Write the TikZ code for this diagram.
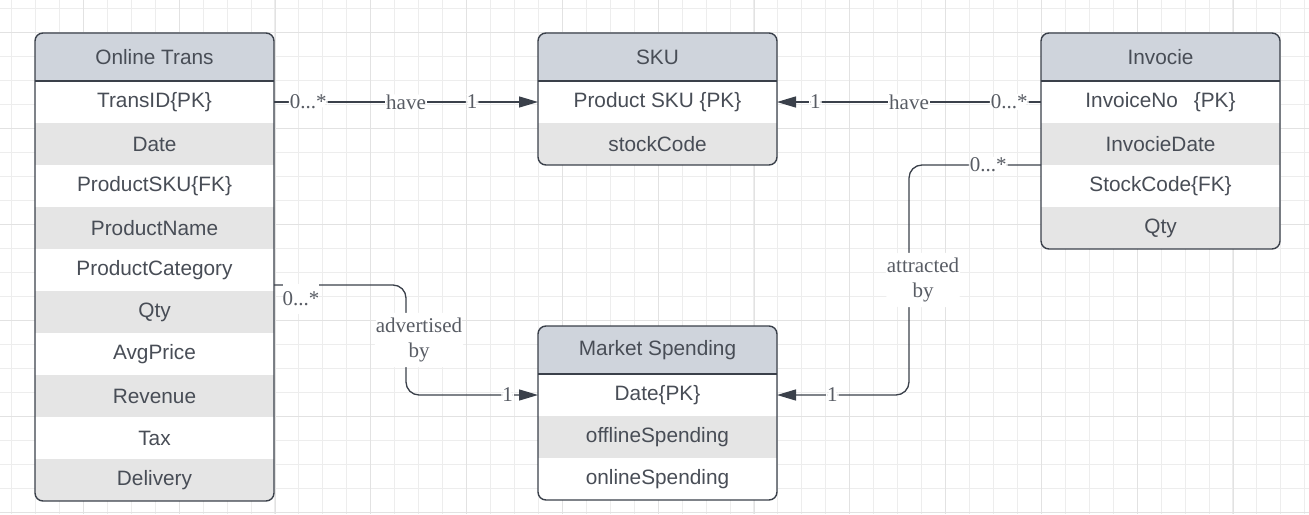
\documentclass[tikz,border=0pt]{standalone}
\usepackage{fontspec}
\usepackage{tikz}
\usetikzlibrary{arrows.meta,positioning,calc}
\newfontfamily\entfont{Liberation Sans}
\newfontfamily\relfont{Liberation Serif}
\definecolor{hdrfill}{RGB}{207,212,220}
\definecolor{altfill}{RGB}{229,229,229}
\definecolor{edgecol}{RGB}{58,64,74}
\definecolor{txtcol}{RGB}{72,77,86}
\definecolor{labcol}{RGB}{88,92,100}
\definecolor{gridmin}{RGB}{237,237,237}
\definecolor{gridmaj}{RGB}{226,226,226}

\begin{document}
\begin{tikzpicture}[
  x=1pt,y=-1pt,
  hdr/.style={minimum width=239pt,minimum height=48pt,inner sep=0pt,outer sep=0pt,
    fill=hdrfill,text=txtcol,font=\entfont\fontsize{20.8}{24}\selectfont},
  fld/.style={minimum width=239pt,minimum height=42pt,inner sep=0pt,outer sep=0pt,
    fill=white,text=txtcol,font=\entfont\fontsize{20.8}{24}\selectfont},
  fldalt/.style={fld,fill=altfill},
  frame/.style={draw=edgecol,line width=1.4pt,rounded corners=8pt},
  rel/.style={draw=edgecol,line width=1.3pt,rounded corners=13pt,
    -{Triangle[length=19pt,width=11pt]}},
  lab/.style={fill=white,inner sep=1pt,text=labcol,font=\relfont\fontsize{21}{25}\selectfont},
  lab2/.style={lab,align=center,inner ysep=5pt}
]
\useasboundingbox (0,0) rectangle (1309,514);

% ---------------- background grid ----------------
\foreach \i in {0,...,54}
  \draw[gridmin,line width=1pt] ({11.5+23.95*\i},0) -- ({11.5+23.95*\i},514);
\foreach \j in {0,...,21}
  \draw[gridmin,line width=1pt] (0,{8+24*\j}) -- (1309,{8+24*\j});
\foreach \i in {0,...,13}
  \draw[gridmaj,line width=1pt] ({83.4+95.8*\i},0) -- ({83.4+95.8*\i},514);
\foreach \j in {0,...,5}
  \draw[gridmaj,line width=1pt] (0,{32+96*\j}) -- (1309,{32+96*\j});

% ---------------- Online Trans ----------------
\begin{scope}
  \clip[rounded corners=8pt] (35,33) rectangle (274,501);
  \node[hdr] (ot) at (154.5,57) {Online Trans};
  \node[fld,below=0pt of ot] (ot1) {TransID\{PK\}};
  \node[fldalt,below=0pt of ot1] (ot2) {Date};
  \node[fld,below=0pt of ot2] (ot3) {ProductSKU\{FK\}};
  \node[fldalt,below=0pt of ot3] (ot4) {ProductName};
  \node[fld,below=0pt of ot4] (ot5) {ProductCategory};
  \node[fldalt,below=0pt of ot5] (ot6) {Qty};
  \node[fld,below=0pt of ot6] (ot7) {AvgPrice};
  \node[fldalt,below=0pt of ot7] (ot8) {Revenue};
  \node[fld,below=0pt of ot8] (ot9) {Tax};
  \node[fldalt,below=0pt of ot9] (ot10) {Delivery};
\end{scope}
\draw[frame] (35,33) rectangle (274,501);
\draw[frame] (ot.south west) -- (ot.south east);

% ---------------- SKU ----------------
\begin{scope}
  \clip[rounded corners=8pt] (538,33) rectangle (777,165);
  \node[hdr] (sku) at (657.5,57) {SKU};
  \node[fld,below=0pt of sku] (sku1) {Product SKU \{PK\}};
  \node[fldalt,below=0pt of sku1] (sku2) {stockCode};
\end{scope}
\draw[frame] (538,33) rectangle (777,165);
\draw[frame] (sku.south west) -- (sku.south east);

% ---------------- Invocie ----------------
\begin{scope}
  \clip[rounded corners=8pt] (1041,33) rectangle (1280,249);
  \node[hdr] (inv) at (1160.5,57) {Invocie};
  \node[fld,below=0pt of inv] (inv1) {InvoiceNo\hspace{16pt}\{PK\}};
  \node[fldalt,below=0pt of inv1] (inv2) {InvocieDate};
  \node[fld,below=0pt of inv2] (inv3) {StockCode\{FK\}};
  \node[fldalt,below=0pt of inv3] (inv4) {Qty};
\end{scope}
\draw[frame] (1041,33) rectangle (1280,249);
\draw[frame] (inv.south west) -- (inv.south east);

% ---------------- Market Spending ----------------
\begin{scope}
  \clip[rounded corners=8pt] (538,326) rectangle (777,500);
  \node[hdr] (msp) at (657.5,350) {Market Spending};
  \node[fld,below=0pt of msp] (msp1) {Date\{PK\}};
  \node[fldalt,below=0pt of msp1] (msp2) {offlineSpending};
  \node[fld,below=0pt of msp2] (msp3) {onlineSpending};
\end{scope}
\draw[frame] (538,326) rectangle (777,500);
\draw[frame] (msp.south west) -- (msp.south east);

% ---------------- relations ----------------
\draw[rel] (ot1.east) -- node[lab,pos=0.13] (r1a) {0...*}
  node[lab,pos=0.5] (r1b) {have} node[lab,pos=0.75] (r1c) {1} (sku1.west);

\draw[rel] (inv1.west) -- node[lab,pos=0.12] (r2a) {0...*}
  node[lab,pos=0.5] (r2b) {have} node[lab,pos=0.855] (r2c) {1} (sku1.east);

\draw[rel] ([yshift=-15pt]ot5.east) -| node[lab2,pos=0.75,xshift=13pt] (r3b) {advertised\\by}
  ([xshift=-132pt]msp1.west) -- node[lab,pos=0.77] (r3c) {1} (msp1.west);
\node[lab,inner xsep=0pt,minimum height=30pt] (r3a) at ([xshift=27pt,yshift=-29pt]ot5.east) {0...*};

\draw[rel] (inv2.south west) -| node[lab,pos=0.2] (r4a) {0...*}
  node[lab2,pos=0.75,xshift=14pt] (r4b) {attracted\\by}
  ([xshift=132pt]msp1.east) -- node[lab,pos=0.58] (r4c) {1} (msp1.east);

\end{tikzpicture}
\end{document}
